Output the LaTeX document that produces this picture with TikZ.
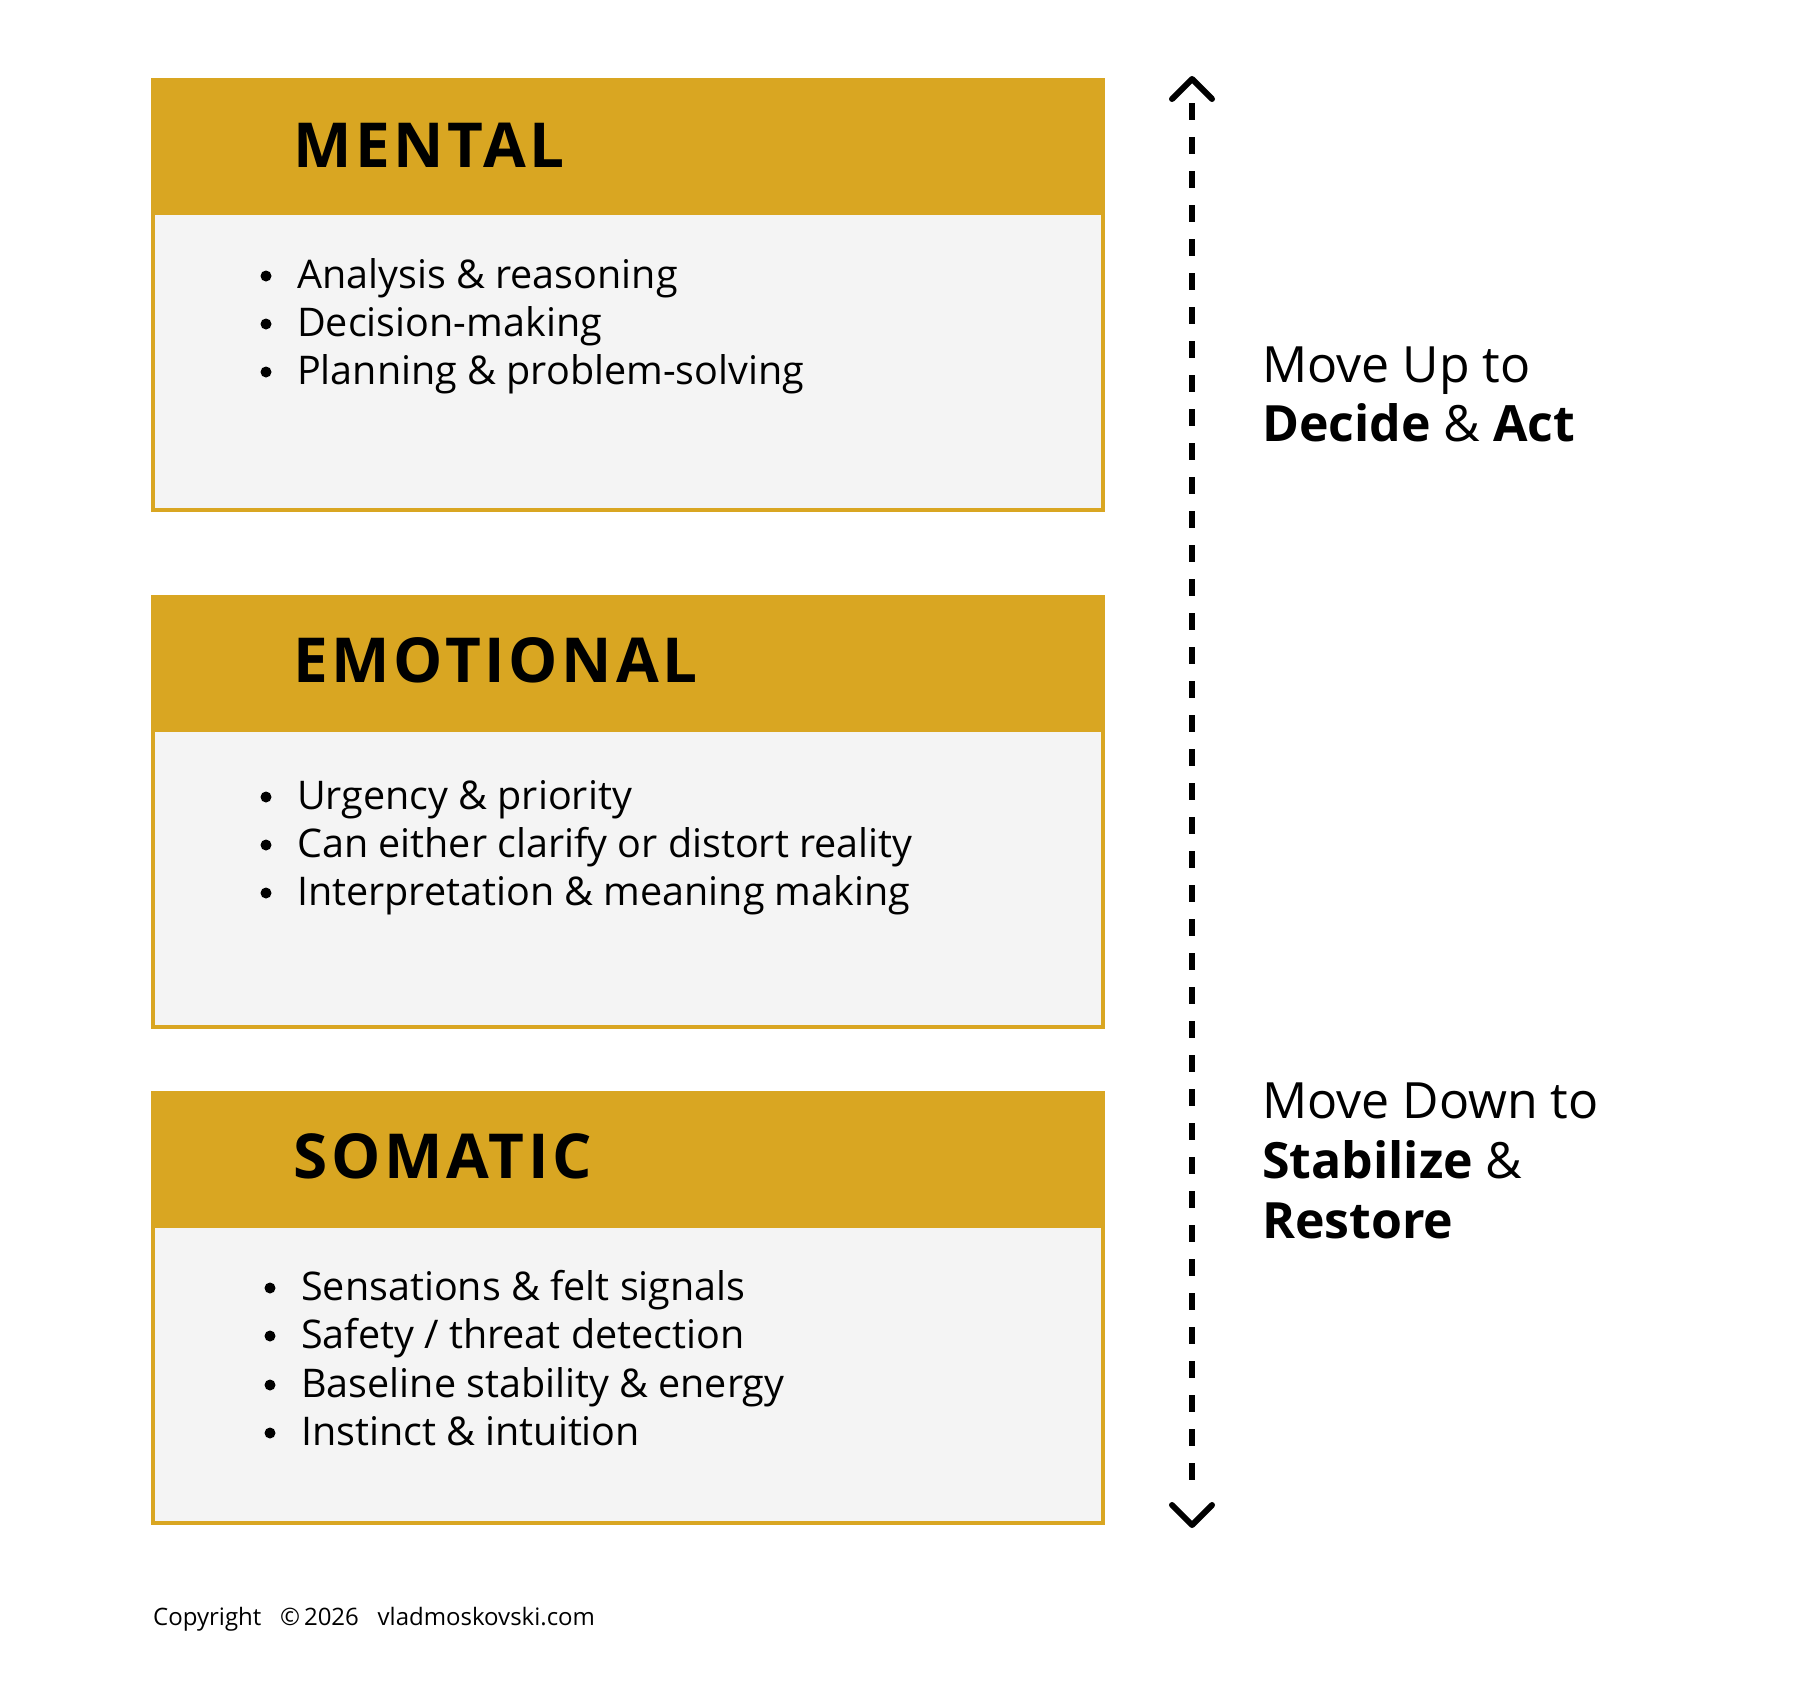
\documentclass[tikz,border=0pt]{standalone}
\usepackage{fontspec}
\setmainfont{Open Sans}
\newfontfamily\headfont[LetterSpace=6]{Open Sans}
\definecolor{gold}{HTML}{D9A622}
\definecolor{panel}{HTML}{F4F4F4}
\begin{document}
\begin{tikzpicture}[x=1pt,y=-1pt,
  panelbox/.style={draw=gold,line width=3.5pt,fill=panel},
  headbar/.style={fill=gold},
  headtxt/.style={anchor=base west,inner sep=0pt,font=\headfont\bfseries\fontsize{62}{62}\selectfont},
  itemtxt/.style={anchor=base west,inner sep=0pt,font=\fontsize{39.5}{39.5}\selectfont},
  bul/.style={circle,fill=black,inner sep=0pt,minimum size=11pt},
  sidetxt/.style={anchor=base west,inner sep=0pt,font=\fontsize{50}{50}\selectfont},
  arrowline/.style={line width=6pt,dash pattern=on 17pt off 17pt},
  chev/.style={line width=6pt,line cap=round,line join=round}
]
\useasboundingbox (0,0) rectangle (1804,1700);
% panels
\foreach \t/\h in {80/215,597/732,1093/1228}{
  \draw[panelbox] (153,\t) rectangle (1103,\t+430);
  \fill[headbar] (151.25,\t-1.75) rectangle (1104.75,\h);
}
\node[headtxt] (hm) at (293,167) {MENTAL};
\node[headtxt] (he) at (293,682) {EMOTIONAL};
\node[headtxt] (hs) at (293,1178) {SOMATIC};
% mental items
\foreach \y/\s [count=\i] in {288/{Analysis \& reasoning},336/{Decision-making},384/{Planning \& problem-solving}}{
  \node[bul] (mb\i) at (266,\y-12) {};
  \node[itemtxt] (mi\i) at (297,\y) {\s};
}
\foreach \y/\s [count=\i] in {809/{Urgency \& priority},857/{Can either clarify or distort reality},905/{Interpretation \& meaning making}}{
  \node[bul] (eb\i) at (266,\y-12) {};
  \node[itemtxt] (ei\i) at (297,\y) {\s};
}
\foreach \y/\s [count=\i] in {1300/{Sensations \& felt signals},1348/{Safety / threat detection},1397/{Baseline stability \& energy},1445/{Instinct \& intuition}}{
  \node[bul] (sb\i) at (270,\y-12) {};
  \node[itemtxt] (si\i) at (301,\y) {\s};
}
% arrow
\coordinate (atop) at (1192,79);
\coordinate (abot) at (1192,1525);
\coordinate (ltop) at (1192,103);
\coordinate (lbot) at (1192,1494);
\draw[arrowline] (ltop) -- (lbot);
\draw[chev] ([shift={(-20,20)}]atop) -- (atop) -- ([shift={(20,20)}]atop);
\draw[chev] ([shift={(-20,-20)}]abot) -- (abot) -- ([shift={(20,-20)}]abot);
% side text
\node[sidetxt] (up1) at (1262,382) {Move Up to};
\node[sidetxt] (up2) at (1262,441) {\textbf{Decide} \& \textbf{Act}};
\node[sidetxt] (dn1) at (1262,1118) {Move Down to};
\node[sidetxt] (dn2) at (1262,1178) {\textbf{Stabilize} \&};
\node[sidetxt] (dn3) at (1262,1238) {\textbf{Restore}};
% copyright
\node[anchor=base west,inner sep=0pt,font=\fontsize{24}{24}\selectfont] (copy) at (153,1625) {Copyright\ \ \ \textcopyright\,2026\ \ \ vladmoskovski.com};
\end{tikzpicture}
\end{document}
